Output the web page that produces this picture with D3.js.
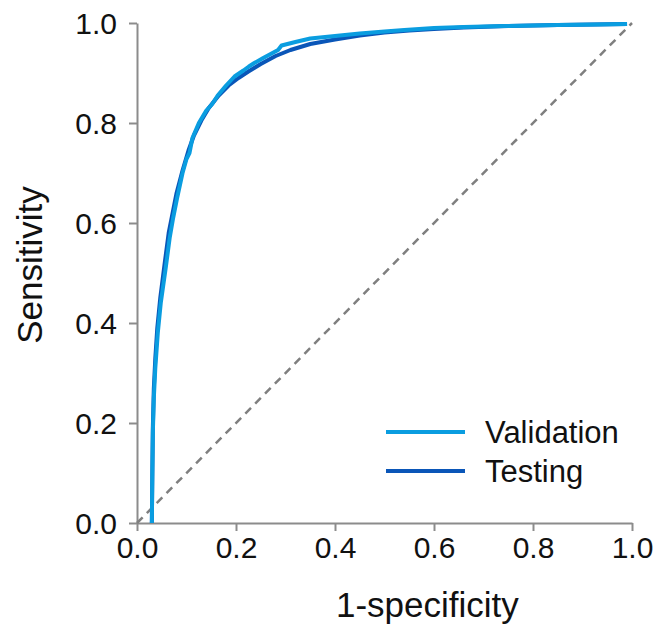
<!DOCTYPE html>
<html>
<head>
<meta charset="utf-8">
<script src="https://cdn.jsdelivr.net/npm/d3@7/dist/d3.min.js"></script>
<style>
  html, body { margin: 0; padding: 0; background: #fff; }
  svg { display: block; font-family: "Liberation Sans", Arial, sans-serif; }
</style>
</head>
<body>
<svg id="chart" width="660" height="625"></svg>
<script>
// ROC curves: false positive rate (1-specificity) vs. sensitivity
const validationFpr = [0.030, 0.031, 0.032, 0.034, 0.037, 0.042, 0.048, 0.058, 0.066, 0.073, 0.081, 0.092, 0.100, 0.106, 0.112, 0.125, 0.140, 0.152, 0.163, 0.180, 0.197, 0.215, 0.226, 0.237, 0.255, 0.270, 0.285, 0.292, 0.320, 0.350, 0.400, 0.450, 0.500, 0.540, 0.600, 0.660, 0.740, 0.850, 0.930, 0.990];
const validationTpr = [0.000, 0.100, 0.180, 0.250, 0.310, 0.380, 0.440, 0.510, 0.570, 0.610, 0.650, 0.700, 0.728, 0.740, 0.770, 0.800, 0.825, 0.838, 0.855, 0.875, 0.893, 0.905, 0.913, 0.920, 0.930, 0.938, 0.946, 0.955, 0.962, 0.969, 0.974, 0.979, 0.983, 0.986, 0.990, 0.992, 0.994, 0.996, 0.997, 0.998];

const testingFpr = [0.030, 0.031, 0.032, 0.034, 0.037, 0.041, 0.047, 0.056, 0.064, 0.072, 0.080, 0.092, 0.104, 0.115, 0.130, 0.145, 0.165, 0.185, 0.205, 0.225, 0.250, 0.280, 0.310, 0.350, 0.400, 0.450, 0.500, 0.550, 0.600, 0.660, 0.750, 0.850, 0.990];
const testingTpr = [0.000, 0.100, 0.190, 0.270, 0.330, 0.390, 0.450, 0.520, 0.580, 0.620, 0.660, 0.705, 0.745, 0.775, 0.805, 0.830, 0.855, 0.875, 0.890, 0.903, 0.918, 0.934, 0.946, 0.958, 0.967, 0.975, 0.981, 0.985, 0.988, 0.991, 0.994, 0.996, 0.998];

const tickValues = [0, 0.2, 0.4, 0.6, 0.8, 1.0];
const seriesNames = ["Validation", "Testing"];
const seriesColors = ["#0a9de0", "#0a56b8"];

const svg = d3.select("#chart");
const margin = { left: 137, right: 28, top: 23, bottom: 102 };
const width = 660 - margin.left - margin.right;
const height = 625 - margin.top - margin.bottom;

const x = d3.scaleLinear().domain([0, 1]).range([margin.left, margin.left + width]);
const y = d3.scaleLinear().domain([0, 1]).range([margin.top + height, margin.top]);

const axisColor = "#8c8c8c";

// axes
const xAxis = svg.append("g")
  .attr("transform", `translate(0,${y(0)})`)
  .call(d3.axisBottom(x).tickValues(tickValues).tickFormat(d3.format(".1f")).tickSize(8).tickSizeOuter(0).tickPadding(6));
const yAxis = svg.append("g")
  .attr("transform", `translate(${x(0)},0)`)
  .call(d3.axisLeft(y).tickValues(tickValues).tickFormat(d3.format(".1f")).tickSize(8).tickSizeOuter(0).tickPadding(12));

[xAxis, yAxis].forEach(g => {
  g.select(".domain").attr("stroke", axisColor).attr("stroke-width", 2);
  g.selectAll(".tick line").attr("stroke", axisColor).attr("stroke-width", 2);
  g.selectAll(".tick text").attr("fill", "#111").style("font-size", "30px")
    .style("font-family", "'Liberation Sans', Arial, sans-serif");
});
yAxis.selectAll(".tick text").attr("dy", "0.36em");

// chance diagonal
svg.append("line")
  .attr("x1", x(0)).attr("y1", y(0))
  .attr("x2", x(1)).attr("y2", y(1))
  .attr("stroke", "#7f7f7f").attr("stroke-width", 2.5)
  .attr("stroke-dasharray", "8,6");

// curves
const line = d3.line().x(d => x(d[0])).y(d => y(d[1]));
const testing = testingFpr.map((v, i) => [v, testingTpr[i]]);
const validation = validationFpr.map((v, i) => [v, validationTpr[i]]);

svg.append("path").datum(testing)
  .attr("d", line).attr("fill", "none")
  .attr("stroke", seriesColors[1]).attr("stroke-width", 4)
  .attr("stroke-linejoin", "round");
svg.append("path").datum(validation)
  .attr("d", line).attr("fill", "none")
  .attr("stroke", seriesColors[0]).attr("stroke-width", 4)
  .attr("stroke-linejoin", "round");

// axis titles
svg.append("text")
  .attr("x", 336).attr("y", 617)
  .attr("text-anchor", "start").attr("fill", "#111")
  .style("font-size", "35px").text("1-specificity");
svg.append("text")
  .attr("transform", `translate(42,265) rotate(-90)`)
  .attr("text-anchor", "middle").attr("fill", "#111")
  .style("font-size", "35px").text("Sensitivity");

// legend
const legend = svg.append("g");
seriesNames.forEach((name, i) => {
  const ly = 432 + i * 39;
  legend.append("line")
    .attr("x1", 386).attr("x2", 465).attr("y1", ly).attr("y2", ly)
    .attr("stroke", seriesColors[i]).attr("stroke-width", 4);
  legend.append("text")
    .attr("x", 485).attr("y", ly).attr("dy", "0.36em")
    .attr("fill", "#111").style("font-size", "31px").text(name);
});
</script>
</body>
</html>
